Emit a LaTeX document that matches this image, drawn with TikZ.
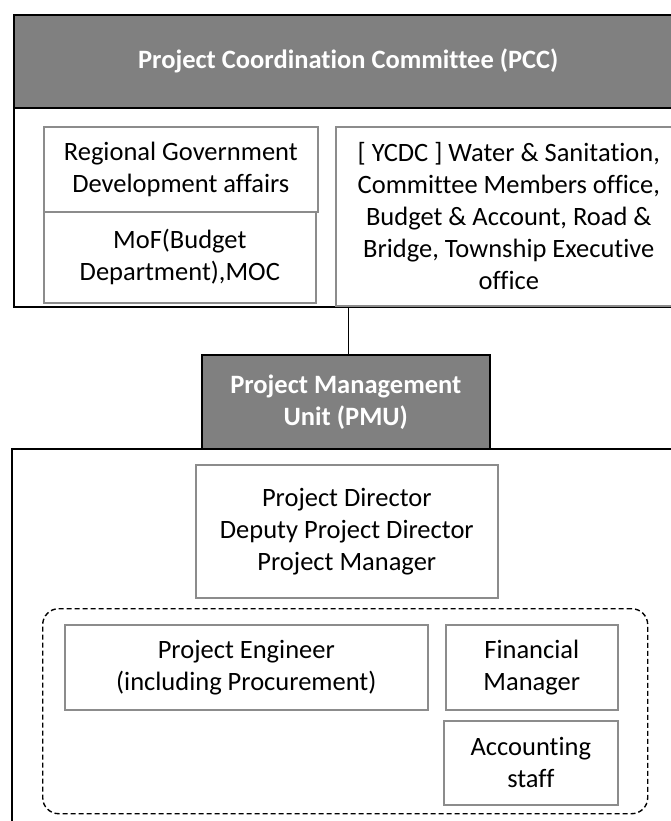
\documentclass[tikz,border=0pt]{standalone}
\usepackage{fontspec}
\setmainfont{Carlito}[Ligatures=CommonOff]
\usetikzlibrary{positioning}
\definecolor{headgray}{HTML}{808080}
\definecolor{linegray}{HTML}{8C8C8C}
\tikzstyle{frame} = [draw=black, line width=1.6pt, rectangle, inner sep=0pt,
    anchor=north west]
\tikzstyle{header} = [frame, fill=headgray, text=white, align=center,
    font=\fontsize{26.5}{32}\selectfont\bfseries]
\tikzstyle{member} = [draw=linegray, line width=1.6pt, rectangle, inner sep=0pt,
    anchor=north west, align=center, font=\fontsize{26.5}{32}\selectfont]
\tikzstyle{team} = [draw=black, line width=1.4pt, dashed, dash pattern=on 5pt off 3pt,
    rounded corners=16pt, rectangle, inner sep=0pt, anchor=north west]

\begin{document}
\begin{tikzpicture}[x=1pt, y=-1pt]
    \useasboundingbox (0,0) rectangle (671,821);
    \clip (0,0) rectangle (671,821);

    % coordination committee
    \node [frame, minimum width=669pt, minimum height=292pt] (pccbox) at (13,14) {};
    \node [header, minimum width=669pt, minimum height=93pt] (pcc) at (13,14)
        {Project Coordination Committee (PCC)};
    \node [member, minimum width=274pt, minimum height=85pt] (regional) at (43,126)
        {Regional Government\\Development affairs};
    \node [member, minimum width=272pt, minimum height=91pt] (mof) at (43,211)
        {MoF(Budget\\Department),MOC};
    \node [member, minimum width=346pt, minimum height=179pt] (ycdc) at (335,126)
        {[ YCDC ] Water \& Sanitation,\\Committee Members office,\\Budget \& Account, Road \&\\Bridge, Township Executive\\office};

    % management unit
    \node [frame, minimum width=671pt, minimum height=420pt] (pmubox) at (11,448) {};
    \node [header, minimum width=288pt, minimum height=94pt] (pmu) at (201,354)
        {Project Management\\Unit (PMU)};
    \node [member, minimum width=302pt, minimum height=133pt] (director) at (195,464)
        {Project Director\\Deputy Project Director\\Project Manager};
    \node [team, minimum width=605pt, minimum height=205pt] (staff) at (42,608) {};
    \node [member, minimum width=363pt, minimum height=85pt] (engineer) at (64,624)
        {Project Engineer\\(including Procurement)};
    \node [member, minimum width=172pt, minimum height=85pt] (finance) at (445,624)
        {Financial\\Manager};
    \node [member, minimum width=174pt, minimum height=84pt] (accounting) at (443,720)
        {Accounting\\staff};

    \draw [line width=1.6pt] (pccbox.south) -- (pccbox.south |- pmu.north);
\end{tikzpicture}
\end{document}
